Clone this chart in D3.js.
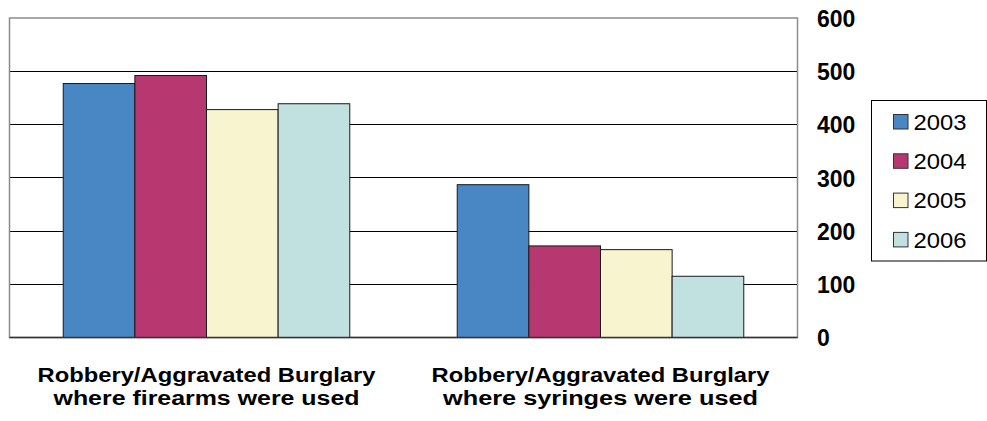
<!DOCTYPE html>
<html><head><meta charset="utf-8">
<script src="https://cdn.jsdelivr.net/npm/d3@7"></script>
<style>body{margin:0;background:#fff}svg{display:block}</style>
</head><body>
<svg id="c" width="987" height="421"></svg>
<script>
const categories = [["Robbery/Aggravated Burglary","where firearms were used"],["Robbery/Aggravated Burglary","where syringes were used"]];
const years = ["2003","2004","2005","2006"];
const v2003 = [477, 287];
const v2004 = [492, 172];
const v2005 = [428, 165];
const v2006 = [439, 115];
const yTicks = [0,100,200,300,400,500,600];
const colors = ["#4886C4","#B73771","#F8F4CF","#C0E1E0"];
const seriesValues = [v2003, v2004, v2005, v2006];
const labelLengths = [[338, 306], [338, 315]];

const svg = d3.select("#c");
const L = 9.5, R = 797.5, T = 18, B = 337.5;
const x0 = d3.scaleBand().domain(d3.range(categories.length)).range([L, R]).padding(0);
const x1 = d3.scaleBand().domain(years).range([0, x0.bandwidth()]).paddingInner(0).paddingOuter(0.75);
const y = d3.scaleLinear().domain([0,600]).range([B, T]);
const font = "'Liberation Sans', Arial, sans-serif";

// gridlines
svg.append("g").selectAll("line").data(yTicks.filter(d=>d>0 && d<600)).join("line")
  .attr("x1", L).attr("x2", R).attr("y1", d=>y(d)).attr("y2", d=>y(d))
  .attr("stroke", "#000").attr("stroke-width", 1).attr("shape-rendering","crispEdges");

// frame
svg.append("rect").attr("x", L).attr("y", T).attr("width", R-L).attr("height", B-T)
  .attr("fill","none").attr("stroke","#8c8c8c").attr("stroke-width",1.5);

// bars
categories.forEach((c, ci) => {
  years.forEach((yr, si) => {
    svg.append("rect")
      .attr("x", x0(ci) + x1(yr)).attr("width", x1.bandwidth())
      .attr("y", y(seriesValues[si][ci])).attr("height", B - y(seriesValues[si][ci]))
      .attr("fill", colors[si]).attr("stroke", "#1a1a1a").attr("stroke-width", 1);
  });
});
// bottom axis line
svg.append("line").attr("x1", L).attr("x2", R).attr("y1", B).attr("y2", B).attr("stroke","#333").attr("stroke-width",1.5);

// right y labels
const yAxis = d3.axisRight(y).tickValues(yTicks).tickSize(0).tickPadding(0);
const ga = svg.append("g").attr("transform", `translate(817,0)`).call(yAxis);
ga.select(".domain").remove();
ga.selectAll("text").attr("font-family", font).attr("font-weight","bold").attr("font-size", 23)
  .attr("fill","#000").attr("text-anchor","start").attr("dy","0.36em").attr("x",0);

// x labels
categories.forEach((c, ci) => {
  const cx = x0(ci) + x0.bandwidth()/2;
  c.forEach((line, li) => svg.append("text")
    .attr("x", cx).attr("y", li === 0 ? 381.5 : 405)
    .attr("text-anchor","middle").attr("font-family", font).attr("font-weight","bold")
    .attr("font-size", 20).attr("fill","#000")
    .attr("textLength", labelLengths[ci][li]).attr("lengthAdjust","spacingAndGlyphs")
    .text(line));
});

// legend
const lg = svg.append("g");
lg.append("rect").attr("x", 871.5).attr("y", 100.5).attr("width", 115).attr("height", 160.5)
  .attr("fill","#fff").attr("stroke","#000").attr("stroke-width",1);
years.forEach((yr, i) => {
  const cy = 122 + i*39.3;
  lg.append("rect").attr("x", 893.5).attr("y", cy-7.5).attr("width", 14.5).attr("height", 14.5)
    .attr("fill", colors[i]).attr("stroke","#333").attr("stroke-width",1);
  lg.append("text").attr("x", 913.5).attr("y", cy).attr("dy","0.36em")
    .attr("font-family", font).attr("font-size", 21.5).attr("fill","#000")
    .attr("textLength", 53).attr("lengthAdjust","spacingAndGlyphs").text(yr);
});
</script>
</body></html>
